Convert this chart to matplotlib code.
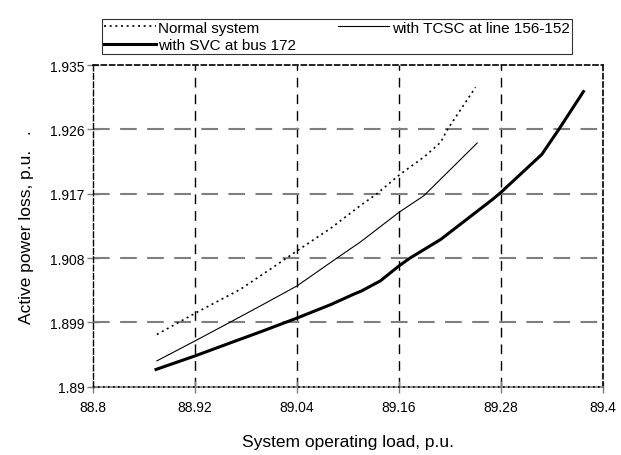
import matplotlib
matplotlib.use('Agg')
import matplotlib.pyplot as plt

plt.rcParams['font.family'] = ['Liberation Sans', 'DejaVu Sans']

# data
normal_x = [88.875, 88.922, 88.973, 89.008, 89.04, 89.08, 89.114, 89.134, 89.161, 89.19, 89.209, 89.217, 89.25]
normal_y = [1.8973, 1.9004, 1.9036, 1.9064, 1.909, 1.9122, 1.9153, 1.917, 1.9197, 1.9222, 1.9242, 1.926, 1.9319]

tcsc_x = [88.875, 88.92, 88.961, 89.00, 89.04, 89.087, 89.114, 89.16, 89.189, 89.252]
tcsc_y = [1.8936, 1.8964, 1.899, 1.9015, 1.9041, 1.908, 1.9102, 1.9144, 1.9167, 1.9241]

svc_x = [88.874, 88.92, 88.961, 89.00, 89.04, 89.08, 89.106, 89.116, 89.138, 89.16, 89.173,
         89.209, 89.27, 89.28, 89.318, 89.328, 89.348, 89.377]
svc_y = [1.8924, 1.8943, 1.8961, 1.8978, 1.8996, 1.9015, 1.9029, 1.9034, 1.9048, 1.9069, 1.908,
         1.9106, 1.9162, 1.9172, 1.9214, 1.9225, 1.926, 1.9313]

xticks = [88.8, 88.92, 89.04, 89.16, 89.28, 89.4]
xticklabels = ['88.8', '88.92', '89.04', '89.16', '89.28', '89.4']
yticks = [1.89, 1.899, 1.908, 1.917, 1.926, 1.935]
yticklabels = ['1.89', '1.899', '1.908', '1.917', '1.926', '1.935']

fig = plt.figure(figsize=(6.21, 4.56), dpi=100)
ax = fig.add_axes([0.150, 0.150, 0.821, 0.705])

l1, = ax.plot(normal_x, normal_y, color='black', lw=1.2, linestyle=(0, (1.2, 2.2)), label='Normal system')
l2, = ax.plot(tcsc_x, tcsc_y, color='black', lw=0.8, label='with TCSC at line 156-152')
l3, = ax.plot(svc_x, svc_y, color='black', lw=2.2, label='with SVC at bus 172')

ax.set_xlim(88.8, 89.4)
ax.set_ylim(1.89, 1.935)
ax.set_xticks(xticks)
ax.set_xticklabels(xticklabels)
ax.set_yticks(yticks)
ax.set_yticklabels(yticklabels)

# grid: vertical black dashed, horizontal gray dashed
for xv in xticks[1:-1]:
    ax.axvline(xv, color='black', lw=1.0, linestyle=(0, (7, 5)), zorder=0)
for yv in yticks[1:-1]:
    ax.axhline(yv, color='#7f7f7f', lw=1.5, linestyle=(0, (8, 5)), zorder=0)

for s in ['top', 'right']:
    ax.spines[s].set_linestyle((0, (3, 2)))
    ax.spines[s].set_linewidth(1.2)
ax.spines['left'].set_linestyle((0, (4, 2)))
ax.spines['left'].set_linewidth(1.0)
ax.spines['bottom'].set_color('#7f7f7f')
ax.spines['bottom'].set_linewidth(1.2)
ax.axhline(1.89, color='black', lw=1.2, linestyle=(0, (1, 2)), zorder=3, clip_on=False)

ax.tick_params(direction='inout', length=8, width=1, color='#7f7f7f', labelsize=10, pad=2)
ax.tick_params(axis='x', pad=6)

ax.set_xlabel('System operating load, p.u.', fontsize=12.5, labelpad=14)
ax.set_ylabel('Active power loss, p.u.   .', fontsize=12.5, labelpad=12)

leg = fig.legend(handles=[l1, l3, l2], ncol=2, loc='lower left',
                 bbox_to_anchor=(0.164, 0.879, 0.757, 0.092), mode='expand',
                 borderaxespad=0, fontsize=11, frameon=True, fancybox=False,
                 edgecolor='black', handlelength=3.4, handletextpad=0.15,
                 labelspacing=0.2, borderpad=0.15, columnspacing=1.0)
leg.get_frame().set_linewidth(0.8)

fig.savefig('out.png', dpi=100)
